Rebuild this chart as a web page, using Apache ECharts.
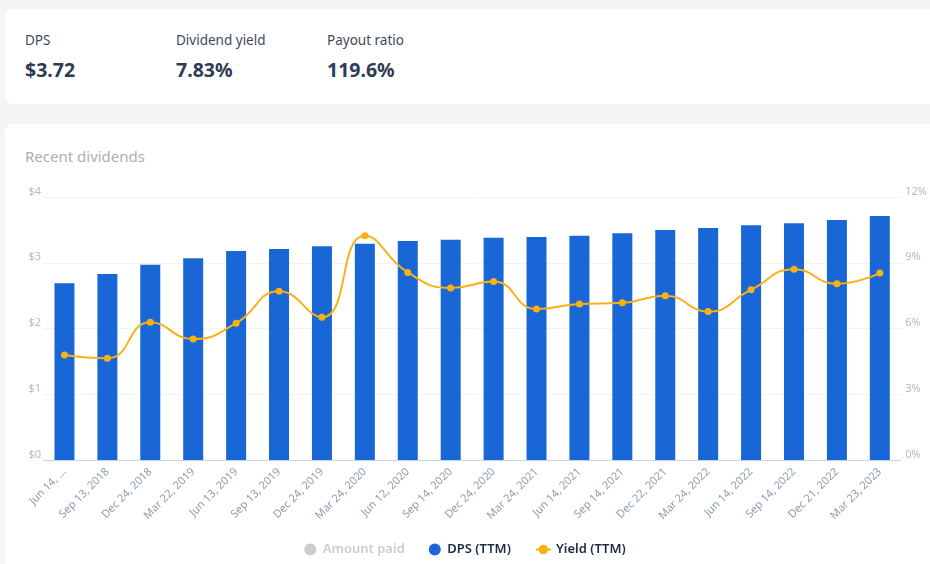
<!DOCTYPE html>
<html>
<head>
<meta charset="utf-8">
<script src="https://cdn.jsdelivr.net/npm/echarts@6/dist/echarts.min.js"></script>
<style>
  html, body { margin:0; padding:0; background:#f4f5f7; width:930px; height:564px; overflow:hidden; font-family:"Noto Sans", "Open Sans", sans-serif; }
  .card1 { position:absolute; left:5px; top:9px; width:940px; height:95px; background:#fff; border-radius:7px; }
  .stat { position:absolute; top:22px; }
  .stat .lbl { font-size:13.5px; color:#3d4a5c; line-height:18px; }
  .stat .val { font-size:19.5px; font-weight:700; color:#2e3b52; margin-top:9px; line-height:24px; }
  .card2 { position:absolute; left:5px; top:124px; width:940px; height:460px; background:#fff; border-radius:7px; }
  .title { position:absolute; left:20px; top:22px; font-size:15px; color:#a9afba; }
  #chart { position:absolute; left:0; top:124px; width:930px; height:440px; }
</style>
</head>
<body>
<div class="card1">
  <div class="stat" style="left:20px"><div class="lbl">DPS</div><div class="val">$3.72</div></div>
  <div class="stat" style="left:171px"><div class="lbl">Dividend yield</div><div class="val">7.83%</div></div>
  <div class="stat" style="left:322px"><div class="lbl">Payout ratio</div><div class="val">119.6%</div></div>
</div>
<div class="card2"><div class="title">Recent dividends</div></div>
<div id="chart"></div>
<script>
const categories = ["Jun 14, 2018","Sep 13, 2018","Dec 24, 2018","Mar 22, 2019","Jun 13, 2019","Sep 13, 2019","Dec 24, 2019","Mar 24, 2020","Jun 12, 2020","Sep 14, 2020","Dec 24, 2020","Mar 24, 2021","Jun 14, 2021","Sep 14, 2021","Dec 22, 2021","Mar 24, 2022","Jun 14, 2022","Sep 14, 2022","Dec 21, 2022","Mar 23, 2023"];
const dpsTTM = [2.69,2.83,2.97,3.07,3.18,3.21,3.25,3.29,3.33,3.35,3.38,3.39,3.41,3.45,3.50,3.53,3.57,3.60,3.65,3.71];
const yieldTTM = [4.79,4.64,6.28,5.52,6.24,7.70,6.51,10.23,8.56,7.85,8.14,6.89,7.12,7.17,7.50,6.77,7.77,8.70,8.04,8.53];
const amountPaid = [];
const leftTicks = ["$0","$1","$2","$3","$4"];
const rightTicks = ["0%","3%","6%","9%","12%"];

const chart = echarts.init(document.getElementById('chart'));
const axisText = { color:'#b4bac4', fontSize:11, fontFamily:'Noto Sans' };
chart.setOption({
  animation:false,
  grid:{ left:43, right:27, top:73, bottom:104 },
  legend:{
    bottom:3, left:'center', itemGap:24, itemWidth:15, itemHeight:12,
    textStyle:{ color:'#1f2d3d', fontSize:13, fontWeight:600, fontFamily:'Noto Sans' },
    inactiveColor:'#cccccc',
    data:[{name:'Amount paid', icon:'circle'},{name:'DPS (TTM)', icon:'circle'},{name:'Yield (TTM)'}],
    selected:{ 'Amount paid': false }
  },
  xAxis:{
    type:'category', data:categories,
    axisLine:{ lineStyle:{ color:'#c6d3e6' } },
    axisTick:{ show:false },
    axisLabel:Object.assign({}, axisText, { color:'#8e9bb0', rotate:45, interval:0, margin:10,
      formatter:(v, i) => i === 0 ? v.slice(0, 7) + ' ...' : v })
  },
  yAxis:[
    { type:'value', min:0, max:4, interval:1,
      axisLabel:Object.assign({}, axisText, { formatter:(v) => leftTicks[v], margin:2, verticalAlign:'bottom' }),
      splitLine:{ lineStyle:{ color:'#f1f3f6' } }, axisLine:{show:false}, axisTick:{show:false} },
    { type:'value', min:0, max:12, interval:3,
      axisLabel:Object.assign({}, axisText, { formatter:(v) => rightTicks[v/3], margin:4, verticalAlign:'bottom' }),
      splitLine:{ show:false }, axisLine:{show:false}, axisTick:{show:false} }
  ],
  series:[
    { name:'Amount paid', type:'bar', data:amountPaid, itemStyle:{ color:'#9aa5b5' }, barWidth:20 },
    { name:'DPS (TTM)', type:'bar', data:dpsTTM, barWidth:20, itemStyle:{ color:'#1967d6' } },
    { name:'Yield (TTM)', type:'line', yAxisIndex:1, data:yieldTTM, smooth:true,
      symbol:'circle', symbolSize:7, lineStyle:{ width:2, color:'#fbb014' }, itemStyle:{ color:'#fbb014' } }
  ]
});
</script>
</body>
</html>
